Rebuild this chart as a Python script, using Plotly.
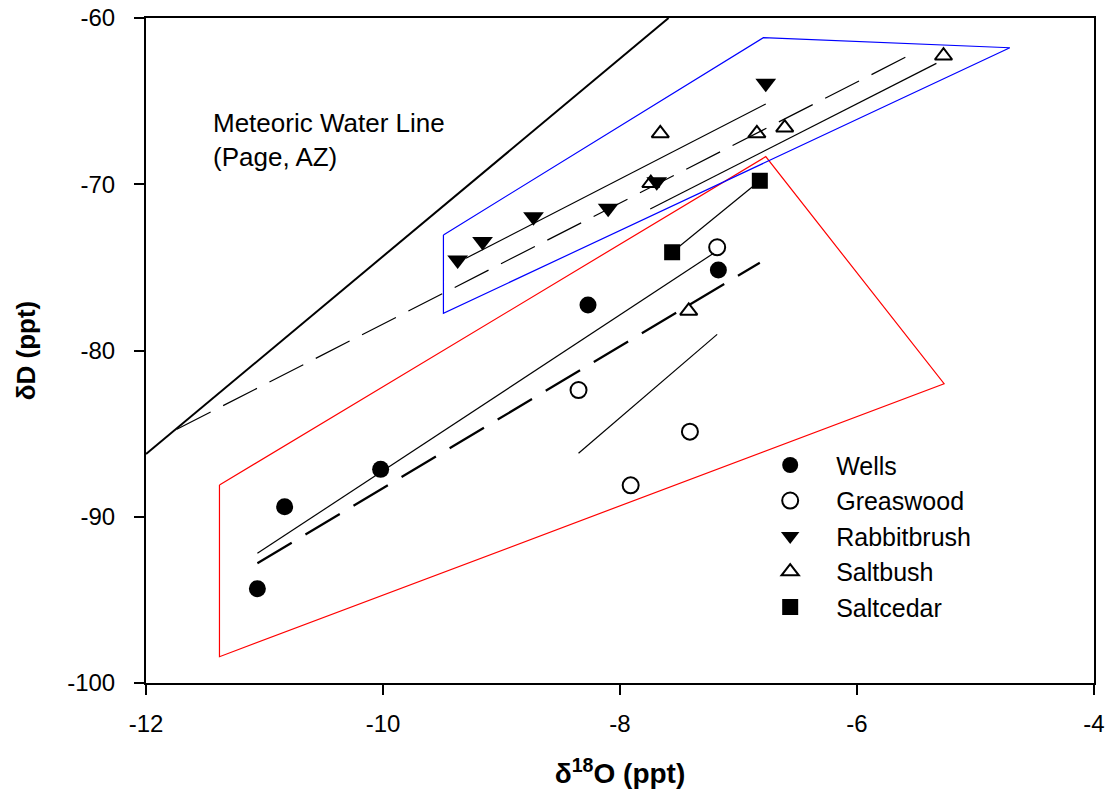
import plotly.graph_objects as go

# ---- data ----
wells_x = [-11.06, -10.83, -10.02, -8.27, -7.17]
wells_y = [-94.33, -89.40, -87.15, -77.26, -75.16]
greasewood_x = [-7.18, -8.35, -7.41, -7.91]
greasewood_y = [-73.79, -82.38, -84.88, -88.11]
rabbit_x = [-9.37, -9.16, -8.73, -8.10, -7.69, -6.77]
rabbit_y = [-74.56, -73.45, -71.95, -71.45, -69.85, -63.93]
saltbush_x = [-7.66, -7.74, -6.845, -6.61, -5.27, -7.42]
saltbush_y = [-66.94, -69.94, -66.94, -66.60, -62.27, -77.62]
saltcedar_x = [-7.56, -6.82]
saltcedar_y = [-74.09, -69.79]

mwl_x = [-12.0, -7.59]
mwl_y = [-86.23, -60.0]
dash_thin_x = [-11.74, -5.50]
dash_thin_y = [-84.74, -62.03]
dash_bold_x = [-11.06, -6.82]
dash_bold_y = [-92.8, -74.72]
rabbit_fit_x = [-9.30, -6.77]
rabbit_fit_y = [-74.45, -65.17]
saltbush_fit_x = [-7.745, -5.33]
saltbush_fit_y = [-71.49, -62.73]
wells_fit_x = [-11.06, -7.21]
wells_fit_y = [-92.2, -74.15]
greasewood_fit_x = [-8.35, -7.18]
greasewood_fit_y = [-86.18, -79.03]

red_poly_x = [-11.38, -11.38, -5.265, -6.77, -11.38]
red_poly_y = [-88.09, -98.42, -82.0, -68.34, -88.09]
blue_poly_x = [-9.49, -6.79, -4.71, -9.49, -9.49]
blue_poly_y = [-73.05, -61.18, -61.79, -77.76, -73.05]

x_ticks = [-12, -10, -8, -6, -4]
y_ticks = [-100, -90, -80, -70, -60]

FONT = "Arial, Liberation Sans, sans-serif"

fig = go.Figure()

def line(x, y, width=1, dash="solid", color="black"):
    fig.add_trace(go.Scatter(x=x, y=y, mode="lines", showlegend=False,
                             hoverinfo="skip",
                             line=dict(color=color, width=width, dash=dash)))

line(red_poly_x, red_poly_y, 1.2, color="red")
line(blue_poly_x, blue_poly_y, 1.2, color="blue")
line(mwl_x, mwl_y, 2)
line(dash_thin_x, dash_thin_y, 1.2, "38px,14px")
line(dash_bold_x, dash_bold_y, 2.2, "40px,16px")
line(rabbit_fit_x, rabbit_fit_y, 1.2)
line(saltbush_fit_x, saltbush_fit_y, 1.2)
line(wells_fit_x, wells_fit_y, 1.2)
line(greasewood_fit_x, greasewood_fit_y, 1.2)
line(saltcedar_x, saltcedar_y, 1.2)

def pts(x, y, name, symbol, size, lw=0):
    fig.add_trace(go.Scatter(
        x=x, y=y, mode="markers", name=name,
        marker=dict(symbol=symbol, size=size, color="black",
                    line=dict(color="black", width=lw))))

pts(wells_x, wells_y, "Wells", "circle", 17)
pts(greasewood_x, greasewood_y, "Greaswood", "circle-open", 16, 2)
pts(rabbit_x, rabbit_y, "Rabbitbrush", "triangle-down", 18)
pts(saltbush_x, saltbush_y, "Saltbush", "triangle-up-open", 15, 2)
pts(saltcedar_x, saltcedar_y, "Saltcedar", "square", 16)

fig.add_annotation(x=-11.45, y=-65.3, xref="x", yref="y", xanchor="left",
                   yanchor="top", align="left", showarrow=False,
                   text="Meteoric Water Line<br>(Page, AZ)",
                   font=dict(family=FONT, size=26, color="black"))

axis_common = dict(showline=True, mirror=True, linecolor="black", linewidth=2,
                   ticks="outside", ticklen=10, tickwidth=1.5, tickcolor="black",
                   showgrid=False, zeroline=False, automargin=False,
                   tickfont=dict(family=FONT, size=24, color="black"))

fig.update_layout(
    width=1105, height=802,
    margin=dict(l=146, r=11, t=18, b=119),
    paper_bgcolor="white", plot_bgcolor="white",
    xaxis=dict(range=[-12, -4], tickvals=x_ticks, ticktext=[str(v) for v in x_ticks],
               ticklabelstandoff=8,
               title=dict(text="<b>δ<sup>18</sup>O (ppt)</b>",
                          font=dict(family=FONT, size=28, color="black"), standoff=28),
               **axis_common),
    yaxis=dict(range=[-100, -60], tickvals=y_ticks, ticktext=[str(v) for v in y_ticks],
               ticklabelstandoff=14,
               title=dict(text="<b>δD (ppt)</b>",
                          font=dict(family=FONT, size=26, color="black"), standoff=24),
               **axis_common),
    legend=dict(x=0.631, y=0.362, xanchor="left", yanchor="top",
                bgcolor="rgba(0,0,0,0)", borderwidth=0,
                font=dict(family=FONT, size=25, color="black"),
                itemwidth=82, itemsizing="trace", tracegroupgap=0),
    showlegend=True,
)

fig.write_html("out.html")
